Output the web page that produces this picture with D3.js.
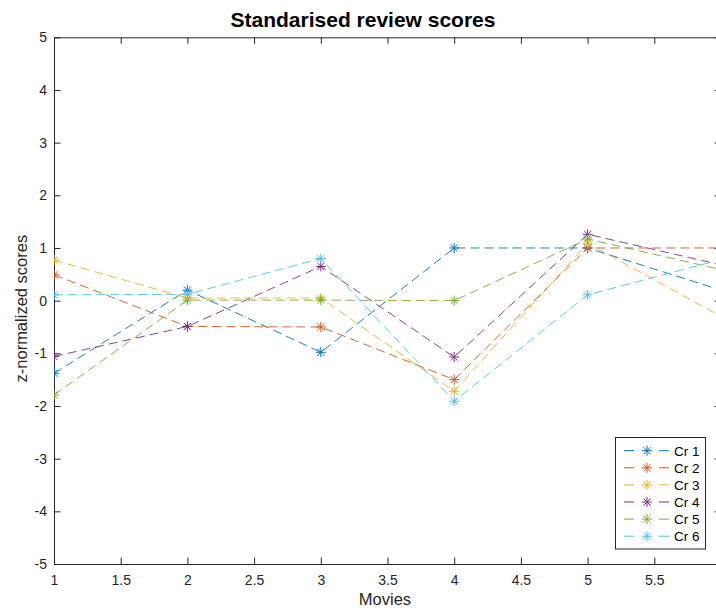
<!DOCTYPE html>
<html>
<head>
<meta charset="utf-8">
<script src="https://cdn.jsdelivr.net/npm/d3@7"></script>
<style>
  html, body { margin: 0; padding: 0; background: #fff; }
  svg { display: block; font-family: "Liberation Sans", Arial, Helvetica, sans-serif; }
</style>
</head>
<body>
<svg id="chart" width="716" height="610"></svg>
<script>
// ---- data ----
const movies = [1, 2, 3, 4, 5, 6];
const seriesNames = ["Cr 1", "Cr 2", "Cr 3", "Cr 4", "Cr 5", "Cr 6"];
const cr1 = [-1.38, 0.20, -0.98, 1.00, 1.00, 0.20];
const cr2 = [0.49, -0.49, -0.50, -1.50, 1.00, 1.00];
const cr3 = [0.77, 0.05, 0.05, -1.72, 1.09, -0.30];
const cr4 = [-1.06, -0.49, 0.65, -1.07, 1.26, 0.68];
const cr5 = [-1.79, 0.01, 0.01, 0.00, 1.17, 0.59];
const cr6 = [0.11, 0.12, 0.80, -1.91, 0.11, 0.78];
const xTicks = [1, 1.5, 2, 2.5, 3, 3.5, 4, 4.5, 5, 5.5, 6];
const yTicks = [-5, -4, -3, -2, -1, 0, 1, 2, 3, 4, 5];
const colors = ["#0072BD", "#D95319", "#EDB120", "#7E2F8E", "#77AC30", "#4DBEEE"];
const allSeries = [cr1, cr2, cr3, cr4, cr5, cr6];

// ---- layout ----
const pLeft = 54, pRight = 721, pTop = 37.3, pBottom = 564;
const svg = d3.select("#chart");
svg.append("rect").attr("width", 716).attr("height", 610).attr("fill", "#fff");

const x = d3.scaleLinear().domain([1, 6]).range([pLeft, pRight]);
const y = d3.scaleLinear().domain([-5, 5]).range([pBottom, pTop]);

const axisColor = "#262626";
const tickLen = 6.5;

function styleAxis(g) {
  g.selectAll("path.domain").attr("stroke", axisColor).attr("stroke-width", 1);
  g.selectAll(".tick line").attr("stroke", axisColor).attr("stroke-width", 1);
  g.selectAll(".tick text").attr("fill", axisColor).attr("font-size", 14)
    .attr("font-family", "Liberation Sans, Arial, sans-serif");
}

// bottom axis
const gx = svg.append("g").attr("transform", `translate(0,${pBottom})`)
  .call(d3.axisBottom(x).tickValues(xTicks).tickFormat(d => String(d))
    .tickSizeInner(-tickLen).tickSizeOuter(0).tickPadding(11));
styleAxis(gx);
// top axis (ticks only)
const gxt = svg.append("g").attr("transform", `translate(0,${pTop})`)
  .call(d3.axisTop(x).tickValues(xTicks).tickFormat("")
    .tickSizeInner(-tickLen).tickSizeOuter(0));
styleAxis(gxt);
// left axis
const gy = svg.append("g").attr("transform", `translate(${pLeft},0)`)
  .call(d3.axisLeft(y).tickValues(yTicks).tickFormat(d => String(d))
    .tickSizeInner(-tickLen).tickSizeOuter(0).tickPadding(7));
styleAxis(gy);
// right axis
const gyr = svg.append("g").attr("transform", `translate(${pRight},0)`)
  .call(d3.axisRight(y).tickValues(yTicks).tickFormat("")
    .tickSizeInner(-tickLen).tickSizeOuter(0));
styleAxis(gyr);

// clip to axes
svg.append("clipPath").attr("id", "plotclip").append("rect")
  .attr("x", pLeft).attr("y", pTop).attr("width", pRight - pLeft).attr("height", pBottom - pTop);
const plot = svg.append("g").attr("clip-path", "url(#plotclip)");

const r = 5, a = r * 0.7071;
const starPath = `M${-r},0L${r},0M0,${-r}L0,${r}M${-a},${-a}L${a},${a}M${-a},${a}L${a},${-a}`;

const line = d3.line().x((d, i) => x(movies[i])).y(d => y(d));

allSeries.forEach((vals, si) => {
  const g = plot.append("g");
  g.append("path").datum(vals).attr("d", line)
    .attr("fill", "none").attr("stroke", colors[si]).attr("stroke-width", 0.9)
    .attr("stroke-dasharray", "9,5");
  g.selectAll("path.star").data(vals).enter().append("path")
    .attr("class", "star")
    .attr("transform", (d, i) => `translate(${x(movies[i])},${y(d)})`)
    .attr("d", starPath).attr("fill", "none").attr("stroke", colors[si]).attr("stroke-width", 1);
});

// title & labels
svg.append("text").attr("x", 363).attr("y", 27).attr("text-anchor", "middle")
  .attr("font-size", 21).attr("font-weight", "bold").attr("fill", "#000")
  .text("Standarised review scores");
svg.append("text").attr("x", 385).attr("y", 605).attr("text-anchor", "middle")
  .attr("font-size", 16.5).attr("fill", axisColor).text("Movies");
svg.append("text").attr("transform", `translate(27,${(pTop + pBottom) / 2 + 8}) rotate(-90)`)
  .attr("text-anchor", "middle").attr("font-size", 16.5).attr("fill", axisColor)
  .text("z-normalized scores");

// legend
const lg = svg.append("g");
const lx0 = 615.5, ly0 = 437.5, lw = 90, lh = 111.5;
lg.append("rect").attr("x", lx0).attr("y", ly0).attr("width", lw).attr("height", lh)
  .attr("fill", "#fff").attr("stroke", axisColor).attr("stroke-width", 1);
seriesNames.forEach((name, i) => {
  const yy = 450.7 + i * 17.1;
  lg.append("path").attr("d", `M624,${yy}L669,${yy}`).attr("stroke", colors[i])
    .attr("stroke-width", 1).attr("stroke-dasharray", "10,25");
  lg.append("path").attr("transform", `translate(647,${yy})`).attr("d", starPath)
    .attr("fill", "none").attr("stroke", colors[i]).attr("stroke-width", 1);
  lg.append("text").attr("x", 674).attr("y", yy + 4.8).attr("font-size", 13.5)
    .attr("fill", "#000").text(name);
});
</script>
</body>
</html>
